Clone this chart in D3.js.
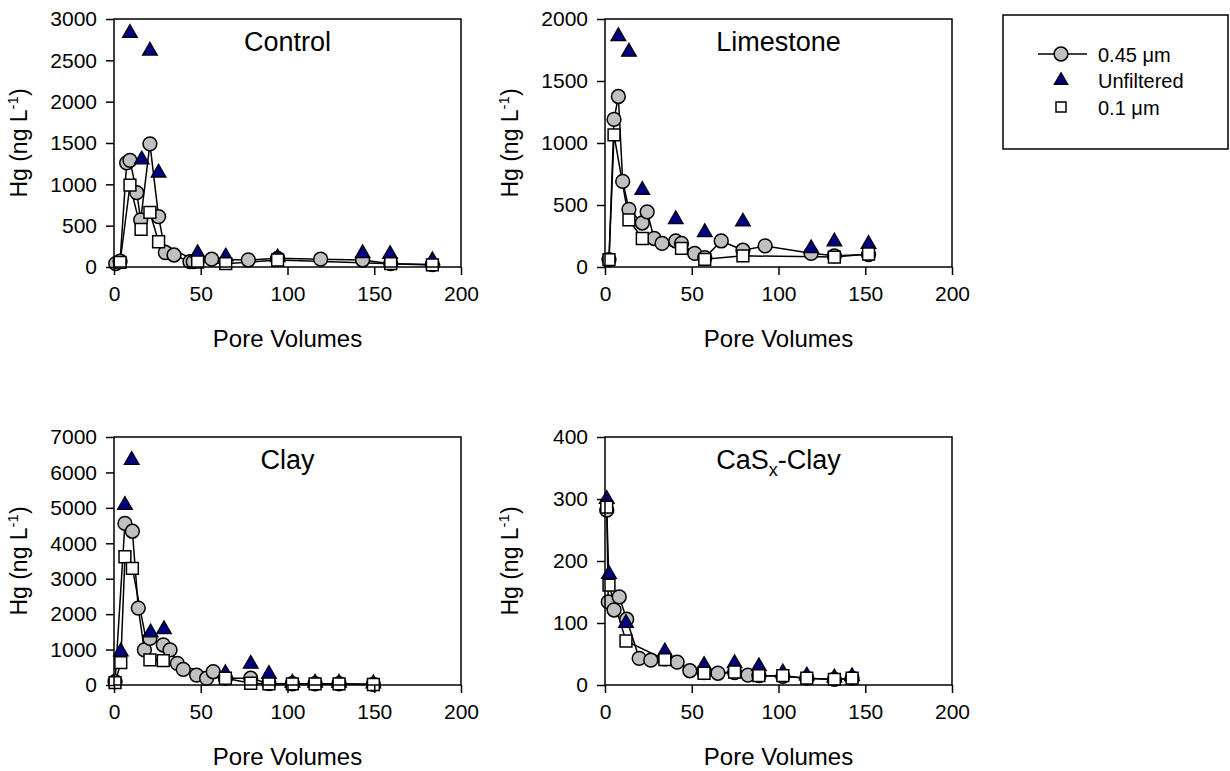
<!DOCTYPE html>
<html>
<head>
<meta charset="utf-8">
<script src="https://cdn.jsdelivr.net/npm/d3@7"></script>
<style>
  body { margin: 0; background: #fff; }
  svg text { font-family: "Liberation Sans", Arial, sans-serif; fill: #000; }
</style>
</head>
<body>
<script>
// pore volumes vs Hg (ng/L)
var xTicks = [0, 50, 100, 150, 200];

var control045 = [[1,40],[3.5,70],[7.3,1260],[9.2,1290],[13.1,900],[15.4,570],[20.7,1490],[25.7,610],[29.6,175],[34.6,145],[43.8,65],[45.7,65],[56.3,95],[77.4,85],[94.3,105],[119.1,95],[143.3,85],[159.5,40],[183.5,30]];
var controlUnf = [[9.2,2830],[16,1300],[20.7,2615],[25.7,1140],[48.2,165],[64.4,125],[94.3,115],[143.3,165],[159.1,155],[183.5,80]];
var control01 = [[3.5,55],[9.2,990],[15.6,455],[20.7,660],[25.7,305],[48.2,60],[64.4,40],[94.3,85],[159.5,40],[183.5,25]];

var lime045 = [[2.3,60],[5.2,1190],[7.7,1375],[10.2,690],[13.8,465],[21.5,355],[24.3,445],[28.3,230],[32.9,190],[40.8,210],[44.1,190],[51.7,110],[57.5,75],[67,210],[79.5,135],[92.3,170],[118.8,110],[132.2,90],[151.9,100]];
var limeUnf = [[7.7,1860],[13.8,1735],[21.5,620],[40.8,385],[57.5,280],[79.5,365],[118.8,150],[132.2,205],[151.9,185]];
var lime01 = [[2.3,60],[5.2,1065],[13.8,380],[21.5,230],[44.1,150],[57.5,62],[79.5,90],[132.2,80],[151.9,105]];

var clay045 = [[0.6,95],[6.3,4560],[10.6,4340],[14,2170],[17.5,990],[20.7,1315],[28.4,1130],[32.3,990],[36.5,610],[39.9,440],[47.6,280],[53.4,190],[57.2,375],[64.2,190],[78.8,190],[89.3,40],[102.8,35],[115.9,35],[129.7,35],[149.5,20]];
var clayUnf = [[3.9,940],[6.3,5080],[10.2,6350],[21.1,1480],[28.8,1570],[64.2,330],[78.8,595],[89.3,310],[102.8,60],[115.9,60],[129.7,60],[149.5,40]];
var clay01 = [[0.6,65],[3.9,630],[6.3,3620],[10.6,3290],[20.7,710],[28.4,690],[64.2,190],[78.8,50],[89.3,30],[102.8,30],[115.9,30],[129.7,30],[149.5,15]];

var casx045 = [[1,282],[1.9,134],[5.2,121],[8.2,142],[12.5,106],[19.7,43],[26.4,40],[34.5,42],[41.6,37],[48.9,23],[57.1,20],[65.1,19],[74.7,20],[82.4,16],[88.7,15],[102.5,14],[116.3,11],[132.2,9],[142.4,11]];
var casxUnf = [[1,300],[2.3,179],[12.1,100],[34.5,54],[57.1,32],[74.7,35],[88.7,30],[102.5,20],[116.3,15],[132.2,12],[142.4,14]];
var casx01 = [[1,287],[2.3,161],[12.1,71],[34.5,41],[57.1,19],[74.7,21],[88.7,15],[102.5,15],[116.3,11],[132.2,9],[142.4,11]];

var panels = [
  {title: "Control", yTicks: [0,500,1000,1500,2000,2500,3000], left: 114, top: 19, fine: control045, unf: controlUnf, ultra: control01},
  {title: "Limestone", yTicks: [0,500,1000,1500,2000], left: 605, top: 19, fine: lime045, unf: limeUnf, ultra: lime01},
  {title: "Clay", yTicks: [0,1000,2000,3000,4000,5000,6000,7000], left: 114, top: 437, fine: clay045, unf: clayUnf, ultra: clay01},
  {title: "CaSx-Clay", yTicks: [0,100,200,300,400], left: 605, top: 437, fine: casx045, unf: casxUnf, ultra: casx01}
];

var width = 1230, height = 771,
    pw = 347, ph = 248;

var svg = d3.select("body").append("svg")
    .attr("width", width)
    .attr("height", height);

var circleSym = d3.symbol(d3.symbolCircle, 150),
    triSym = d3.symbol(d3.symbolTriangle, 95),
    squareSym = d3.symbol(d3.symbolSquare, 140);

panels.forEach(function(p) {
  var x = d3.scaleLinear().domain([0, 200]).range([p.left, p.left + pw]);
  var y = d3.scaleLinear().domain([0, d3.max(p.yTicks)]).range([p.top + ph, p.top]);
  var g = svg.append("g");

  var line = d3.line()
      .x(function(d) { return x(d[0]); })
      .y(function(d) { return y(d[1]); });

  g.append("path").datum(p.fine)
      .attr("d", line).attr("fill", "none").attr("stroke", "#000").attr("stroke-width", 1.5);
  g.append("path").datum(p.ultra)
      .attr("d", line).attr("fill", "none").attr("stroke", "#000").attr("stroke-width", 1.5);

  g.selectAll(".c").data(p.fine).enter().append("path")
      .attr("d", circleSym)
      .attr("transform", function(d) { return "translate(" + x(d[0]) + "," + y(d[1]) + ")"; })
      .attr("fill", "#c0c0c0").attr("stroke", "#000").attr("stroke-width", 1.5);
  g.selectAll(".t").data(p.unf).enter().append("path")
      .attr("d", triSym)
      .attr("transform", function(d) { return "translate(" + x(d[0]) + "," + y(d[1]) + ")"; })
      .attr("fill", "#000080").attr("stroke", "#000").attr("stroke-width", 1.2);
  g.selectAll(".s").data(p.ultra).enter().append("path")
      .attr("d", squareSym)
      .attr("transform", function(d) { return "translate(" + x(d[0]) + "," + y(d[1]) + ")"; })
      .attr("fill", "#fff").attr("stroke", "#000").attr("stroke-width", 1.5);

  // frame
  g.append("rect")
      .attr("x", p.left).attr("y", p.top).attr("width", pw).attr("height", ph)
      .attr("fill", "none").attr("stroke", "#000").attr("stroke-width", 1.5);

  var xAxis = g.append("g")
      .attr("transform", "translate(0," + (p.top + ph) + ")")
      .call(d3.axisBottom(x).tickValues(xTicks).tickFormat(d3.format("d")).tickSize(8).tickPadding(11));
  var yAxis = g.append("g")
      .attr("transform", "translate(" + p.left + ",0)")
      .call(d3.axisLeft(y).tickValues(p.yTicks).tickFormat(d3.format("d")).tickSize(8).tickPadding(9));
  [xAxis, yAxis].forEach(function(a) {
    a.select(".domain").remove();
    a.selectAll("line").attr("stroke-width", 1.5);
    a.selectAll("text").style("font-size", "21px");
  });

  // panel title (CaSx gets a subscript x)
  var t = g.append("text")
      .attr("x", p.left + pw / 2).attr("y", p.top + 32)
      .attr("text-anchor", "middle")
      .style("font-size", "27px");
  if (p.title == "CaSx-Clay") {
    t.append("tspan").text("CaS");
    t.append("tspan").attr("dy", 7).style("font-size", "18px").text("x");
    t.append("tspan").attr("dy", -7).text("-Clay");
  } else {
    t.text(p.title);
  }

  g.append("text")
      .attr("x", p.left + pw / 2).attr("y", p.top + ph + 80)
      .attr("text-anchor", "middle")
      .style("font-size", "24px")
      .text("Pore Volumes");

  var yl = g.append("text")
      .attr("transform", "translate(" + (p.left - 87) + "," + (p.top + ph / 2) + ") rotate(-90)")
      .attr("text-anchor", "middle")
      .style("font-size", "23px");
  yl.append("tspan").text("Hg (ng L");
  yl.append("tspan").attr("dy", -9).style("font-size", "15px").text("-1");
  yl.append("tspan").attr("dy", 9).text(")");
});

// legend
var legendNames = ["0.45 \u03bcm", "Unfiltered", "0.1 \u03bcm"];
var lg = svg.append("g");
lg.append("rect")
    .attr("x", 1003).attr("y", 15).attr("width", 225).attr("height", 134)
    .attr("fill", "none").attr("stroke", "#000").attr("stroke-width", 1.5);
lg.append("line")
    .attr("x1", 1038).attr("x2", 1087).attr("y1", 54).attr("y2", 54)
    .attr("stroke", "#000").attr("stroke-width", 1.5);
var legendSyms = [
  {sym: circleSym, fill: "#c0c0c0"},
  {sym: d3.symbol(d3.symbolTriangle, 75), fill: "#000080"},
  {sym: d3.symbol(d3.symbolSquare, 100), fill: "#fff"}
];
legendNames.forEach(function(name, i) {
  var cy = 54 + i * 26.5;
  lg.append("path")
      .attr("d", legendSyms[i].sym)
      .attr("transform", "translate(1061," + cy + ")")
      .attr("fill", legendSyms[i].fill).attr("stroke", "#000").attr("stroke-width", 1.5);
  lg.append("text")
      .attr("x", 1098).attr("y", cy + 7.5)
      .style("font-size", "20px")
      .text(name);
});
</script>
</body>
</html>
